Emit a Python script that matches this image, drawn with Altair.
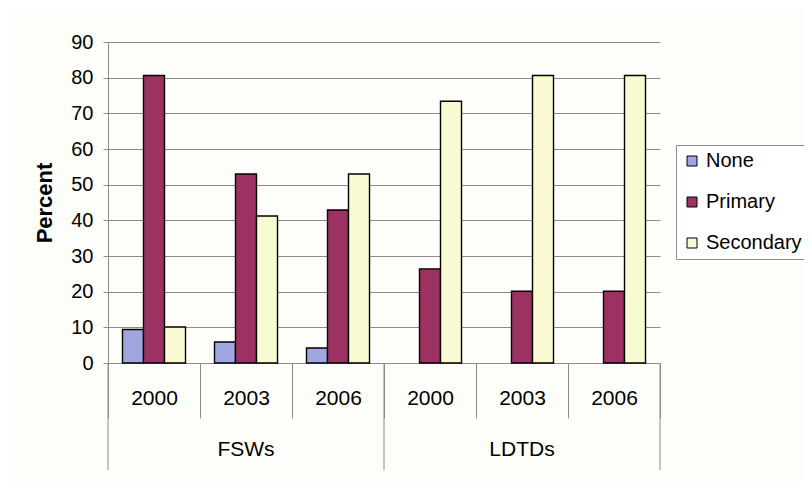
import altair as alt
import pandas as pd

groups = ["FSWs", "FSWs", "FSWs", "LDTDs", "LDTDs", "LDTDs"]
years = ["2000", "2003", "2006", "2000", "2003", "2006"]
series = ["None", "Primary", "Secondary"]
none_vals = [9.4, 5.9, 4.2, None, None, None]
primary_vals = [80.6, 53.0, 42.9, 26.4, 20.1, 20.1]
secondary_vals = [10.1, 41.2, 53.0, 73.4, 80.6, 80.6]
colors = ["#a0a6e0", "#9c3262", "#fafad2"]
y_ticks = [0, 10, 20, 30, 40, 50, 60, 70, 80, 90]

keys = [f"{g}|{y}" for g, y in zip(groups, years)]

rows = []
for i, k in enumerate(keys):
    for s, vals in zip(series, [none_vals, primary_vals, secondary_vals]):
        if vals[i] is not None:
            rows.append({"key": k, "series": s, "value": vals[i]})
df = pd.DataFrame(rows)

group_names = ["FSWs", "LDTDs"]
group_df = pd.DataFrame({"group": group_names, "key": [keys[1], keys[4]]})
left_edges = pd.DataFrame({"key": [keys[0], keys[3]]})
right_edge = pd.DataFrame({"key": [keys[5]]})

FONT = "Liberation Sans"
GRAY = "#8c8c8c"
W, H = 552, 321

xscale = alt.Scale(domain=keys, paddingInner=0, paddingOuter=0)

bars = alt.Chart(df).mark_bar(stroke="black", strokeWidth=1.4).encode(
    x=alt.X("key:N", sort=keys, scale=xscale,
            axis=alt.Axis(title=None, labelExpr="split(datum.label, '|')[1]",
                          labelAngle=0, tickBand="extent", tickSize=55,
                          tickColor=GRAY, domainColor=GRAY, labelFontSize=21,
                          labelFont=FONT, labelColor="black", labelBaseline="middle",
                          labelPadding=-20, grid=False)),
    xOffset=alt.XOffset("series:N", sort=series,
                        scale=alt.Scale(domain=series, paddingInner=0, paddingOuter=0.69)),
    y=alt.Y("value:Q", scale=alt.Scale(domain=[0, 90], nice=False),
            axis=alt.Axis(values=y_ticks, title="Percent", titleFont=FONT,
                          titleFontSize=22, titleFontWeight="bold", titleColor="black",
                          titlePadding=14, labelFont=FONT, labelFontSize=20,
                          labelColor="black", labelPadding=10, tickSize=5,
                          tickColor=GRAY, domainColor=GRAY, gridColor=GRAY,
                          gridOpacity=1)),
    color=alt.Color("series:N", sort=series,
                    scale=alt.Scale(domain=series, range=colors),
                    legend=alt.Legend(title=None, orient="none", legendX=568, legendY=103,
                                      labelFont=FONT, labelFontSize=20, labelColor="black",
                                      symbolType="square", symbolSize=100,
                                      symbolStrokeColor="black", symbolStrokeWidth=1,
                                      labelOffset=4, rowPadding=21, padding=6,
                                      strokeColor=GRAY, fillColor="white")),
)

group_text = alt.Chart(group_df).mark_text(font=FONT, fontSize=21, color="black",
                                           baseline="middle").encode(
    x=alt.X("key:N", sort=keys, scale=xscale),
    y=alt.value(H + 87),
    text="group:N",
)

left_rules = alt.Chart(left_edges).mark_rule(color=GRAY, strokeWidth=1).encode(
    x=alt.X("key:N", sort=keys, scale=xscale, bandPosition=0),
    y=alt.value(H),
    y2=alt.value(H + 107),
)
right_rules = alt.Chart(right_edge).mark_rule(color=GRAY, strokeWidth=1).encode(
    x=alt.X("key:N", sort=keys, scale=xscale, bandPosition=1),
    y=alt.value(H),
    y2=alt.value(H + 107),
)

chart = alt.layer(bars, group_text, left_rules, right_rules).properties(
    width=W, height=H,
    autosize=alt.AutoSizeParams(type="none"),
    padding={"left": 100, "top": 34, "right": 144, "bottom": 119},
    background="#fdfdf9",
).configure_view(strokeWidth=0)

chart.save("out.html", embed_options={"renderer": "svg", "actions": False})
